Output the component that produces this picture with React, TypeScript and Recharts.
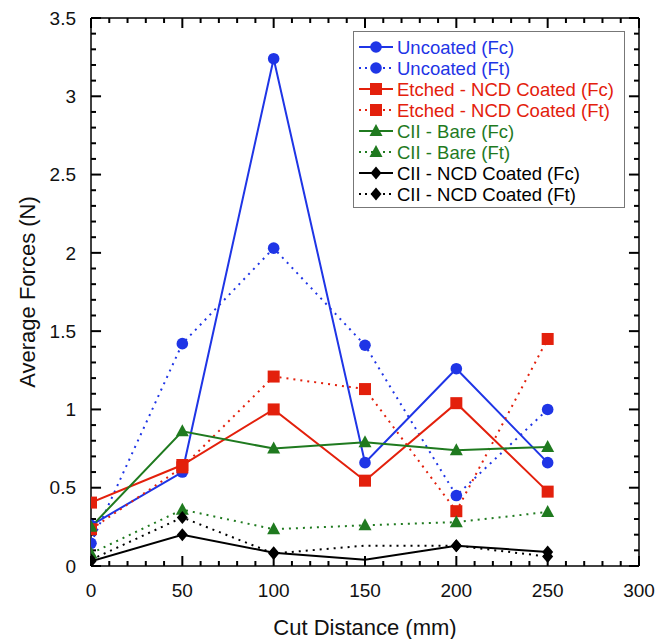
import React from "react";
import { LineChart, Line, XAxis, YAxis, ReferenceLine } from "recharts";

const cutDistance = [0, 50, 100, 150, 200, 250];
const uncoatedFc = [0.26, 0.6, 3.24, 0.66, 1.26, 0.66];
const uncoatedFt = [0.145, 1.42, 2.03, 1.41, 0.45, 1.0];
const etchedFc = [0.405, 0.645, 1.0, 0.545, 1.04, 0.475];
const etchedFt = [0.235, 0.63, 1.21, 1.13, 0.35, 1.45];
const ciiBareFc = [0.25, 0.86, 0.75, 0.79, 0.74, 0.76];
const ciiBareFt = [0.08, 0.36, 0.235, 0.26, 0.28, 0.345];
const ciiNcdFc = [0.03, 0.2, 0.085, 0.04, 0.13, 0.09];
const ciiNcdFt = [0.04, 0.31, 0.08, 0.13, 0.13, 0.06];

const xMajor = [0, 50, 100, 150, 200, 250, 300];
const xMinor = [
  10, 20, 30, 40, 60, 70, 80, 90, 110, 120, 130, 140, 160, 170, 180, 190, 210,
  220, 230, 240, 260, 270, 280, 290,
];
const yMajor = [0, 0.5, 1, 1.5, 2, 2.5, 3, 3.5];
const yMinor = [
  0.1, 0.2, 0.3, 0.4, 0.6, 0.7, 0.8, 0.9, 1.1, 1.2, 1.3, 1.4, 1.6, 1.7, 1.8,
  1.9, 2.1, 2.2, 2.3, 2.4, 2.6, 2.7, 2.8, 2.9, 3.1, 3.2, 3.3, 3.4,
];

const data = cutDistance.map((x, i) => ({
  x,
  uncoatedFc: uncoatedFc[i],
  uncoatedFt: uncoatedFt[i],
  etchedFc: etchedFc[i],
  etchedFt: etchedFt[i],
  ciiBareFc: ciiBareFc[i],
  ciiBareFt: ciiBareFt[i],
  ciiNcdFc: ciiNcdFc[i],
  ciiNcdFt: ciiNcdFt[i],
}));

const BLUE = "#1f35e6";
const RED = "#e3200c";
const GREEN = "#1f7a1f";
const BLACK = "#000000";
const FONT = "'Liberation Sans', Arial, sans-serif";

// markers hidden at 150 mm on the black series, as in the source figure
const series = [
  { key: "uncoatedFc", name: "Uncoated (Fc)", color: BLUE, shape: "circle", dashed: false, skip: [] as number[] },
  { key: "uncoatedFt", name: "Uncoated (Ft)", color: BLUE, shape: "circle", dashed: true, skip: [] as number[] },
  { key: "etchedFc", name: "Etched - NCD Coated (Fc)", color: RED, shape: "square", dashed: false, skip: [] as number[] },
  { key: "etchedFt", name: "Etched - NCD Coated (Ft)", color: RED, shape: "square", dashed: true, skip: [] as number[] },
  { key: "ciiBareFc", name: "CII - Bare (Fc)", color: GREEN, shape: "triangle", dashed: false, skip: [] as number[] },
  { key: "ciiBareFt", name: "CII - Bare (Ft)", color: GREEN, shape: "triangle", dashed: true, skip: [] as number[] },
  { key: "ciiNcdFc", name: "CII - NCD Coated (Fc)", color: BLACK, shape: "diamond", dashed: false, skip: [3] },
  { key: "ciiNcdFt", name: "CII - NCD Coated (Ft)", color: BLACK, shape: "diamond", dashed: true, skip: [3] },
];

const Marker = ({ shape, cx, cy, color }: { shape: string; cx: number; cy: number; color: string }) => {
  if (shape === "circle") return <circle cx={cx} cy={cy} r={5.8} fill={color} />;
  if (shape === "square") return <rect x={cx - 6} y={cy - 6} width={12} height={12} fill={color} />;
  if (shape === "triangle")
    return <path d={`M${cx},${cy - 7} L${cx + 6.5},${cy + 5} L${cx - 6.5},${cy + 5} Z`} fill={color} />;
  return <path d={`M${cx},${cy - 6.5} L${cx + 5.5},${cy} L${cx},${cy + 6.5} L${cx - 5.5},${cy} Z`} fill={color} />;
};

const makeDot = (shape: string, color: string, skip: number[]) => (props: any) => {
  const { cx, cy, index } = props;
  const key = `dot-${shape}-${color}-${index}`;
  if (cx == null || cy == null || skip.includes(index)) return <g key={key} />;
  return (
    <g key={key}>
      <Marker shape={shape} cx={cx} cy={cy} color={color} />
    </g>
  );
};

// inward frame ticks, lengths in data units (about 10px / 5px)
const X_MAJ_LEN = 0.064;
const X_MIN_LEN = 0.032;
const Y_MAJ_LEN = 5.5;
const Y_MIN_LEN = 2.75;

const frameTicks = () => {
  const out: React.ReactNode[] = [];
  const add = (key: string, a: { x: number; y: number }, b: { x: number; y: number }) =>
    out.push(
      <ReferenceLine
        key={key}
        xAxisId="x"
        yAxisId="y"
        segment={[a, b]}
        stroke="#000"
        strokeWidth={2}
        ifOverflow="visible"
      />
    );
  xMajor.forEach((v) => {
    add(`bM${v}`, { x: v, y: 0 }, { x: v, y: X_MAJ_LEN });
    add(`tM${v}`, { x: v, y: 3.5 }, { x: v, y: 3.5 - X_MAJ_LEN });
  });
  xMinor.forEach((v) => {
    add(`bm${v}`, { x: v, y: 0 }, { x: v, y: X_MIN_LEN });
    add(`tm${v}`, { x: v, y: 3.5 }, { x: v, y: 3.5 - X_MIN_LEN });
  });
  yMajor.forEach((v) => {
    add(`lM${v}`, { x: 0, y: v }, { x: Y_MAJ_LEN, y: v });
    add(`rM${v}`, { x: 300, y: v }, { x: 300 - Y_MAJ_LEN, y: v });
  });
  yMinor.forEach((v) => {
    add(`lm${v}`, { x: 0, y: v }, { x: Y_MIN_LEN, y: v });
    add(`rm${v}`, { x: 300, y: v }, { x: 300 - Y_MIN_LEN, y: v });
  });
  return out;
};

const XTitle = () => (
  <text x={357} y={627} textAnchor="middle" fontSize={22} fontFamily={FONT} fill="#111">
    Cut Distance (mm)
  </text>
);

const YTitle = () => (
  <text
    x={26.5}
    y={284}
    transform="rotate(-90 26.5 284)"
    textAnchor="middle"
    fontSize={22}
    fontFamily={FONT}
    fill="#111"
  >
    Average Forces (N)
  </text>
);

const LegendBox = () => (
  <svg width={272} height={177} style={{ position: "absolute", left: 345, top: 23 }}>
    <rect x={0.5} y={0.5} width={271} height={176} fill="#fff" stroke="#777" strokeWidth={1} />
    {series.map((s, i) => {
      const y = 16 + i * 21;
      return (
        <g key={s.key}>
          <line
            x1={6}
            x2={40}
            y1={y}
            y2={y}
            stroke={s.color}
            strokeWidth={2}
            strokeDasharray={s.dashed ? "2 4" : undefined}
          />
          <Marker shape={s.shape} cx={23} cy={y} color={s.color} />
          <text x={44} y={y} dominantBaseline="central" fontSize={18.5} fontFamily={FONT} fill={s.color}>
            {s.name}
          </text>
        </g>
      );
    })}
  </svg>
);

const tickFont = { fill: "#111", fontSize: 19, fontFamily: FONT };
const frame = { stroke: "#000", strokeWidth: 1.5 };

export default function App() {
  return (
    <div style={{ position: "relative", width: 662, height: 631 }}>
      <LineChart width={662} height={631} data={data} margin={{ top: 9, right: 30, left: 0, bottom: 0 }}>
        <XAxis
          xAxisId="x"
          dataKey="x"
          type="number"
          domain={[0, 300]}
          ticks={xMajor}
          interval={0}
          tickSize={0}
          tickMargin={18}
          tickLine={false}
          axisLine={frame}
          tick={tickFont}
          height={73}
          allowDataOverflow
          label={<XTitle />}
        />
        <XAxis
          xAxisId="top"
          dataKey="x"
          type="number"
          orientation="top"
          domain={[0, 300]}
          tick={false}
          tickLine={false}
          axisLine={frame}
          height={1}
          allowDataOverflow
        />
        <YAxis
          yAxisId="y"
          type="number"
          domain={[0, 3.5]}
          ticks={yMajor}
          interval={0}
          tickSize={0}
          tickMargin={15}
          tickLine={false}
          axisLine={frame}
          tick={tickFont}
          width={83}
          allowDataOverflow
          label={<YTitle />}
        />
        <YAxis
          yAxisId="right"
          type="number"
          orientation="right"
          domain={[0, 3.5]}
          tick={false}
          tickLine={false}
          axisLine={frame}
          width={1}
          allowDataOverflow
        />
        {frameTicks()}
        {series.map((s) => (
          <Line
            key={s.key}
            xAxisId="x"
            yAxisId="y"
            dataKey={s.key}
            name={s.name}
            type="linear"
            stroke={s.color}
            strokeWidth={2}
            strokeDasharray={s.dashed ? "2 5" : undefined}
            dot={makeDot(s.shape, s.color, s.skip)}
            activeDot={false}
            isAnimationActive={false}
          />
        ))}
      </LineChart>
      <LegendBox />
    </div>
  );
}
